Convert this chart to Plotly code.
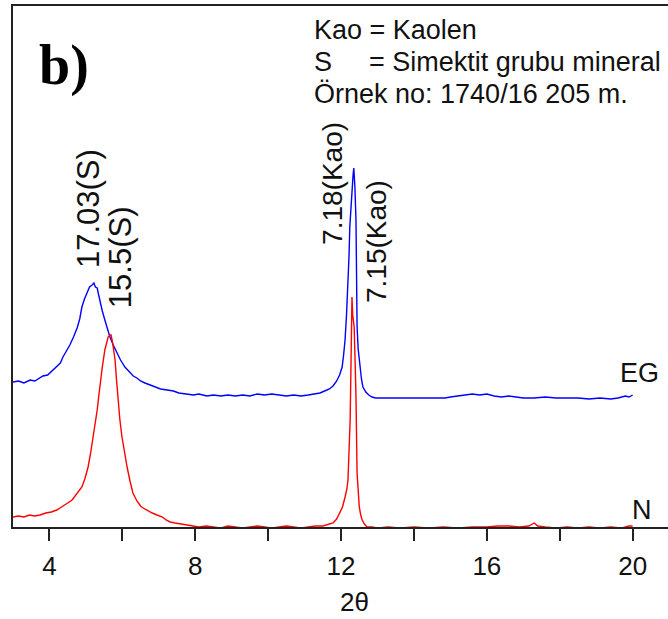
import plotly.graph_objects as go

# Glycol-treated (EG) pattern: 2-theta (deg) and intensity (counts)
two_theta_eg = [3.00, 3.15, 3.30, 3.47, 3.60, 3.70, 3.82, 3.95, 4.10, 4.20, 4.30, 4.37, 4.45, 4.56,
                4.66, 4.76, 4.83, 4.89, 4.96, 5.03, 5.10, 5.17, 5.22, 5.26, 5.31, 5.35, 5.39, 5.45,
                5.52, 5.59, 5.66, 5.75, 5.85, 5.95, 6.07, 6.20, 6.30, 6.40, 6.50, 6.62, 6.76, 6.90,
                7.05, 7.23, 7.40, 7.55, 7.77, 7.95, 8.10, 8.32, 8.50, 8.70, 8.90, 9.10, 9.30, 9.50,
                9.70, 9.90, 10.10, 10.30, 10.50, 10.70, 10.90, 11.10, 11.25, 11.42, 11.55, 11.68,
                11.78, 11.88, 11.96, 12.03, 12.07, 12.11, 12.15, 12.19, 12.22, 12.24, 12.27, 12.30,
                12.33, 12.35, 12.38, 12.41, 12.43, 12.44, 12.47, 12.52, 12.56, 12.60, 12.68, 12.76,
                12.85, 12.95, 13.02, 13.50, 14.00, 14.50, 14.85, 15.00, 15.20, 15.45, 15.60, 15.80,
                16.00, 16.20, 16.40, 16.60, 16.80, 17.00, 17.30, 17.60, 17.90, 18.20, 18.50, 18.80,
                19.10, 19.40, 19.60, 19.80, 19.90, 20.00]
counts_eg = [145, 146, 144, 147, 146, 148, 151, 152, 157, 160, 164, 170, 175, 182,
             190, 199, 208, 220, 228, 235, 240, 242, 244, 240, 239, 232, 225, 216,
             207, 198, 190, 182, 174, 167, 160, 155, 151, 149, 146, 144, 142, 140,
             138, 137, 136, 134, 133, 132, 133, 131, 132, 131, 132, 131, 132, 131,
             133, 132, 133, 132, 131, 132, 131, 132, 133, 134, 136, 138,
             141, 146, 152, 160, 172, 187, 212, 240, 272, 300, 322, 340,
             352, 359, 340, 307, 255, 200, 178, 160, 148, 140, 135, 132,
             130, 129, 129, 129, 129, 129, 129, 130, 131, 132, 133, 132,
             133, 131, 130, 131, 130, 129, 129, 130, 129, 129, 129, 128,
             129, 128, 129, 131, 130, 132]

# Untreated (N) pattern
two_theta_n = [3.00, 3.15, 3.30, 3.45, 3.60, 3.74, 3.90, 4.05, 4.20, 4.29, 4.40, 4.50, 4.62, 4.72,
               4.80, 4.89, 4.97, 5.06, 5.13, 5.20, 5.26, 5.31, 5.35, 5.39, 5.45, 5.52, 5.57, 5.61,
               5.66, 5.69, 5.73, 5.77, 5.80, 5.84, 5.88, 5.93, 5.99, 6.06, 6.13, 6.21, 6.29, 6.40,
               6.50, 6.57, 6.70, 6.82, 6.95, 7.10, 7.20, 7.31, 7.45, 7.60, 7.77, 7.90, 8.10, 8.30,
               8.50, 8.70, 8.90, 9.10, 9.30, 9.50, 9.70, 9.90, 10.10, 10.30, 10.50, 10.70, 10.90,
               11.10, 11.30, 11.50, 11.60, 11.70, 11.78, 11.88, 11.97, 12.04, 12.11, 12.16, 12.19,
               12.22, 12.25, 12.28, 12.30, 12.32, 12.34, 12.36, 12.39, 12.41, 12.44, 12.47, 12.50,
               12.54, 12.58, 12.64, 12.71, 12.85, 13.00, 13.30, 13.60, 14.00, 14.40, 14.80, 15.20,
               15.60, 16.00, 16.30, 16.60, 16.90, 17.15, 17.30, 17.40, 17.60, 17.90, 18.20, 18.50,
               18.80, 19.10, 19.40, 19.70, 19.90, 20.00]
counts_n = [10, 11, 10, 12, 11, 12, 14, 15, 17, 19, 21, 24, 27, 32,
            36, 40, 48, 60, 74, 90, 104, 117, 130, 144, 160, 177, 185, 190,
            192, 192, 185, 175, 167, 147, 127, 108, 90, 74, 60, 46, 34, 26,
            21, 19, 16, 14, 12, 10, 7, 5, 4, 3, 2, 1, 0, 1,
            0, -1, 1, 0, -1, 0, 1, 0, -1, 0, 1, 0, -1,
            0, 1, 1, 2, 3, 4, 8, 14, 20, 30, 38, 47,
            70, 107, 180, 230, 212, 204, 200, 160, 130, 54, 32, 20,
            12, 7, 3, 0, 0, -1, 0, -1, 0, -1, 0, -1,
            0, 0, 1, 1, 0, 1, 4, 1, 0, -1, 0, -1,
            0, -1, 0, -1, 1, 1]

tick_vals = [4, 6, 8, 10, 12, 14, 16, 18, 20]
tick_text = ["4", "", "8", "", "12", "", "16", "", "20"]

FONT = "Liberation Sans, Arial, sans-serif"
TXT = "#111111"

fig = go.Figure()
fig.add_trace(go.Scatter(x=two_theta_eg, y=counts_eg, mode="lines",
                         line=dict(color="#0000FF", width=1.4), name="EG"))
fig.add_trace(go.Scatter(x=two_theta_n, y=counts_n, mode="lines",
                         line=dict(color="#FF0000", width=1.4), name="N"))

def label(text, x, y, angle=0, size=27, anchor="center", family=FONT, color=TXT):
    fig.add_annotation(x=x, y=y, xref="x", yref="y", text=text, showarrow=False,
                       textangle=angle, xanchor=anchor, yanchor="middle",
                       font=dict(family=family, size=size, color=color))

# peak labels (d-spacings in angstrom)
label("17.03(S)", 5.06, 318, angle=-90, size=31)
label("15.5(S)", 5.94, 270, angle=-90, size=31)
label("7.18(Kao)", 11.75, 344, angle=-90, size=28)
label("7.15(Kao)", 12.96, 285, angle=-90, size=28)

# trace names
label("EG", 20.18, 154)
label("N", 20.26, 17)

# panel letter
label("<b>b)</b>", 4.39, 462, size=56, family="Liberation Serif, Times New Roman, serif",
      color="#000000")

# legend text block
label("Kao = Kaolen", 11.205, 497, anchor="left")
label("S", 11.205, 465, anchor="left")
label("= Simektit grubu mineral", 12.71, 465, anchor="left")
label("Örnek no: 1740/16 205 m.", 11.205, 433, anchor="left")

# x-axis title
fig.add_annotation(x=0.522, y=-0.144, xref="paper", yref="paper", text="2θ",
                   showarrow=False, xanchor="center", yanchor="middle",
                   font=dict(family=FONT, size=26, color=TXT))

fig.update_layout(
    width=668, height=619,
    margin=dict(l=13, r=0, t=6, b=92),
    paper_bgcolor="white", plot_bgcolor="white",
    showlegend=False,
    xaxis=dict(range=[3, 20.97], tickmode="array", tickvals=tick_vals, ticktext=tick_text,
               ticks="outside", ticklen=12, tickwidth=2, tickcolor="#222",
               ticklabelstandoff=3,
               showline=True, linewidth=2, linecolor="#222", mirror=True,
               showgrid=False, zeroline=False,
               tickfont=dict(family=FONT, size=26, color=TXT)),
    yaxis=dict(range=[0, 521], showline=True, linewidth=2, linecolor="#222",
               showticklabels=False, ticks="", showgrid=False, zeroline=False),
)

fig.write_html("out.html")
